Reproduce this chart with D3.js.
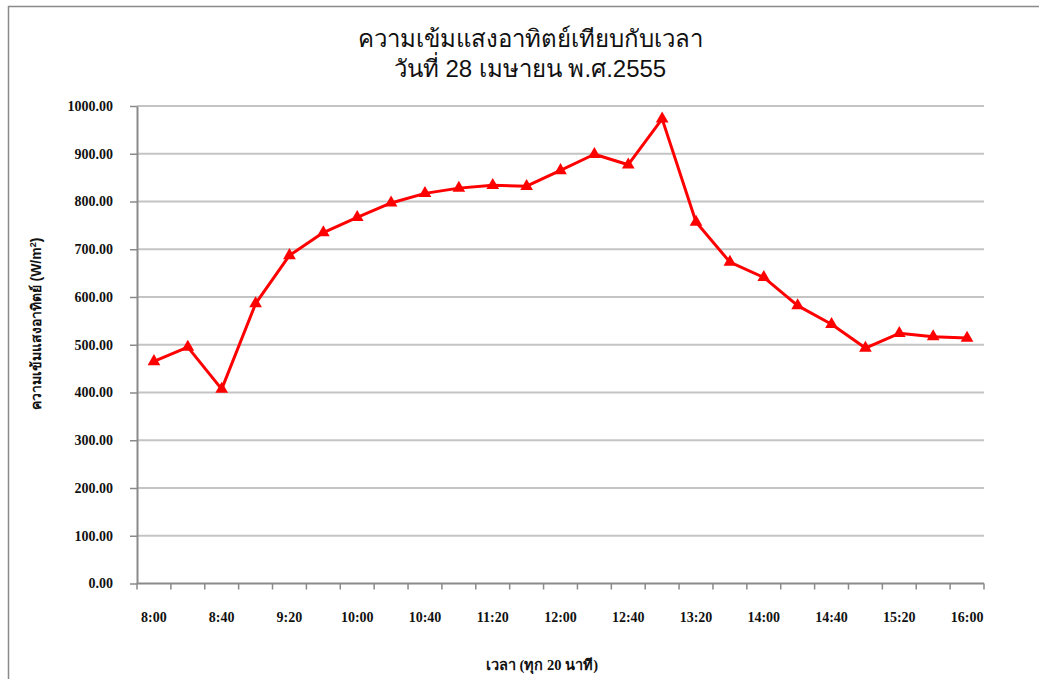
<!DOCTYPE html>
<html>
<head>
<meta charset="utf-8">
<script src="https://cdn.jsdelivr.net/npm/d3@7"></script>
<style>
  html, body { margin: 0; padding: 0; background: #fff; }
  svg { display: block; }
</style>
</head>
<body>
<svg id="chart" width="1039" height="679"></svg>
<script>
const categories = ["8:00","8:20","8:40","9:00","9:20","9:40","10:00","10:20","10:40","11:00","11:20","11:40","12:00","12:20","12:40","13:00","13:20","13:40","14:00","14:20","14:40","15:00","15:20","15:40","16:00"];
const values = [465, 495, 407, 586, 687, 735, 767, 797, 817, 828, 834, 832, 865, 899, 877, 973, 757, 673, 641, 582, 543, 493, 524, 517, 514];
const yTicks = [0, 100, 200, 300, 400, 500, 600, 700, 800, 900, 1000];
const xLabels = ["8:00","8:40","9:20","10:00","10:40","11:20","12:00","12:40","13:20","14:00","14:40","15:20","16:00"];
const titleLines = ["ความเข้มแสงอาทิตย์เทียบกับเวลา", "วันที่ 28 เมษายน พ.ศ.2555"];
const xTitle = "เวลา (ทุก 20 นาที)";
const yTitle = "ความเข้มแสงอาทิตย์ (W/m";

const svg = d3.select("#chart");
const W = 1039, H = 679;
const mLeft = 137, mRight = 984, mTop = 106, mBottom = 583.5;

// outer frame
svg.append("path").attr("d", `M8.5,${H} V6.5 H${W}`).attr("fill","none").attr("stroke","#8a8a8a").attr("stroke-width",1.5);

const x = d3.scaleBand().domain(categories).range([mLeft, mRight]).padding(0);
const y = d3.scaleLinear().domain([0, 1000]).range([mBottom, mTop]);

// gridlines
svg.append("g").selectAll("line").data(yTicks.filter(d => d > 0)).join("line")
  .attr("x1", mLeft).attr("x2", mRight)
  .attr("y1", d => y(d)).attr("y2", d => y(d))
  .attr("stroke", "#c4c4c4").attr("stroke-width", 1.8);

// y axis
const yAxis = d3.axisLeft(y).tickValues(yTicks).tickFormat(d => d3.format(".2f")(d)).tickSizeInner(7).tickSizeOuter(0).tickPadding(17);
const gy = svg.append("g").attr("transform", `translate(${mLeft},0)`).call(yAxis);
gy.select(".domain").attr("stroke", "#8a8a8a").attr("stroke-width", 2);
gy.selectAll(".tick line").attr("stroke", "#8a8a8a").attr("stroke-width", 1.5);
gy.selectAll(".tick text").attr("font-family", "'Liberation Serif', 'Times New Roman', serif")
  .attr("font-weight", "bold").attr("font-size", 14).attr("fill", "#111");

// x axis: ticks on category boundaries
const boundaries = categories.map((c, i) => i).concat([categories.length]);
const xb = d3.scaleLinear().domain([0, categories.length]).range([mLeft, mRight]);
const gx = svg.append("g").attr("transform", `translate(0,${mBottom})`);
gx.append("line").attr("x1", mLeft).attr("x2", mRight).attr("y1", 0).attr("y2", 0)
  .attr("stroke", "#8a8a8a").attr("stroke-width", 2);
gx.selectAll("line.tk").data(boundaries).join("line").attr("class","tk")
  .attr("x1", d => xb(d)).attr("x2", d => xb(d)).attr("y1", 0).attr("y2", 6)
  .attr("stroke", "#8a8a8a").attr("stroke-width", 1.5);
gx.selectAll("text").data(xLabels).join("text")
  .attr("x", d => x(d) + x.bandwidth() / 2).attr("y", 38.5)
  .attr("text-anchor", "middle")
  .attr("font-family", "'Liberation Serif', 'Times New Roman', serif")
  .attr("font-weight", "bold").attr("font-size", 14).attr("fill", "#111")
  .text(d => d);

// line
const pts = categories.map((c, i) => ({ c, v: values[i] }));
const line = d3.line().x(d => x(d.c) + x.bandwidth() / 2).y(d => y(d.v));
svg.append("path").datum(pts).attr("d", line)
  .attr("fill", "none").attr("stroke", "#ff0000").attr("stroke-width", 3).attr("stroke-linejoin", "round");

// triangle markers
const tri = d3.symbol().type(d3.symbolTriangle).size(70);
svg.append("g").selectAll("path").data(pts).join("path")
  .attr("transform", d => `translate(${x(d.c) + x.bandwidth() / 2},${y(d.v)})`)
  .attr("d", tri).attr("fill", "#ff0000");

// title
svg.append("g").selectAll("text").data(titleLines).join("text")
  .attr("x", 530).attr("y", (d, i) => 47 + i * 29.5)
  .attr("text-anchor", "middle")
  .attr("font-family", "'Liberation Sans', Arial, sans-serif")
  .attr("font-size", 24).attr("fill", "#111")
  .text(d => d);

// x title
svg.append("text").attr("x", 542).attr("y", 670).attr("text-anchor", "middle")
  .attr("font-family", "'Liberation Serif', serif").attr("font-weight", "bold")
  .attr("font-size", 14.5).attr("fill", "#111").text(xTitle);

// y title
const yt = svg.append("text").attr("transform", "translate(41,324) rotate(-90)")
  .attr("text-anchor", "middle")
  .attr("font-family", "'Liberation Sans', Arial, sans-serif").attr("font-weight", "bold")
  .attr("font-size", 14).attr("fill", "#111");
yt.append("tspan").text(yTitle);
yt.append("tspan").attr("dy", -5).attr("font-size", 9).text("2");
yt.append("tspan").attr("dy", 5).text(")");
</script>
</body>
</html>
